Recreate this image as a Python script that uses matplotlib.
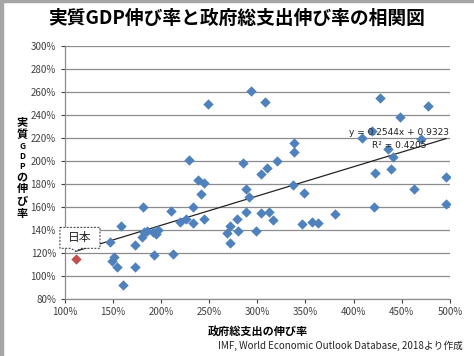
import numpy as np
import matplotlib
matplotlib.use("Agg")
import matplotlib.pyplot as plt
from matplotlib.patches import Rectangle, Polygon

plt.rcParams['font.family'] = ['Noto Sans CJK JP', 'DejaVu Sans']

# government total expenditure growth (%), real GDP growth (%)
spend = [146.8, 148.8, 150.9, 153.7, 158.2, 160.6, 172.7, 172.7, 180.7, 179.7,
         182.1, 184.9, 192.5, 192.0, 195.1, 197.1, 210.1, 212.5, 219.5, 225.7,
         229.1, 232.7, 233.3, 238.5, 241.8, 244.4, 244.4, 248.3, 268.0, 271.4,
         271.4, 278.4, 280.1, 284.9, 287.7, 291.5, 288.1, 293.3, 298.4, 303.6,
         303.6, 307.8, 310.2, 312.5, 315.8, 320.0, 337.4, 337.9, 338.1, 345.9,
         348.8, 356.4, 362.5, 380.5, 408.3, 419.5, 421.0, 422.4, 427.3, 436.1,
         438.7, 440.5, 448.1, 462.8, 470.4, 477.5, 496.1, 496.1]
gdp = [129.8, 113.3, 116.3, 108.1, 143.7, 92.2, 127.2, 108.1, 160.3, 134.2,
       138.5, 139.4, 118.3, 138.7, 136.9, 140.0, 156.3, 119.1, 147.0, 149.3,
       200.9, 160.3, 145.8, 183.9, 171.3, 180.6, 149.3, 249.1, 137.6, 143.5,
       128.9, 150.0, 139.1, 198.0, 175.6, 169.0, 155.6, 260.7, 139.1, 188.5,
       155.0, 251.0, 193.9, 155.4, 148.7, 199.6, 179.1, 215.4, 207.6, 145.0,
       171.9, 147.0, 146.5, 154.1, 219.7, 226.1, 159.6, 189.7, 255.0, 210.2,
       193.3, 203.2, 238.0, 175.8, 218.7, 247.8, 186.5, 162.3]
japan = (111.4, 114.5)
slope, intercept, r2 = 0.2544, 0.9323, 0.4205

blue = '#4F81BD'
red = '#C0504D'

fig = plt.figure(figsize=(4.74, 3.56), dpi=100)
ax = fig.add_axes([0.137, 0.160, 0.812, 0.711])

ax.scatter(spend, gdp, marker='D', s=28, color=blue, zorder=3, linewidths=0)
ax.scatter([japan[0]], [japan[1]], marker='D', s=28, color=red, zorder=3, linewidths=0)

# linear trend line over data range
xs = np.array([japan[0], max(spend)])
ax.plot(xs, (slope * xs / 100 + intercept) * 100, color='#222222', lw=0.9, zorder=2)
ax.text(447, 225, 'y = %.4fx + %.4f' % (slope, intercept), fontsize=6.5,
        ha='center', va='center', color='#222222', family=['DejaVu Sans'])
ax.text(447, 213.5, 'R² = %.4f' % r2, fontsize=6.5,
        ha='center', va='center', color='#222222', family=['DejaVu Sans'])

# callout for Japan (dashed box with a small notch pointing at the trend start)
tip_y = (slope * japan[0] / 100 + intercept) * 100
callout = Polygon([(94.8, 142.3), (136.4, 142.3), (136.4, 124.1), (117.0, 124.1),
                   (japan[0], tip_y), (106.0, 124.1), (94.8, 124.1)],
                  closed=True, fc='white', ec='#333333', lw=0.7,
                  ls=(0, (2, 1.5)), clip_on=False, zorder=4)
ax.add_patch(callout)
ax.text(115.6, 133.4, '日本', fontsize=8.5, ha='center', va='center',
        color='#222222', zorder=5)

ax.set_xlim(100, 500)
ax.set_ylim(80, 300)
ax.set_xticks(np.arange(100, 501, 50))
ax.set_yticks(np.arange(80, 301, 20))
ax.set_xticklabels(['%d%%' % v for v in range(100, 501, 50)])
ax.set_yticklabels(['%d%%' % v for v in range(80, 301, 20)])
ax.tick_params(labelsize=7, colors='#404040', length=3, width=0.8)
ax.tick_params(axis='x', pad=3)
ax.yaxis.grid(True, color='#8C8C8C', lw=0.9)
ax.set_axisbelow(True)
for s in ['top', 'right']:
    ax.spines[s].set_visible(False)
for s in ['left', 'bottom']:
    ax.spines[s].set_color('#8C8C8C')
    ax.spines[s].set_linewidth(0.9)

fig.text(0.5, 0.948, '実質GDP伸び率と政府総支出伸び率の相関図', ha='center', va='center',
         fontsize=13.5, fontweight='bold')
fig.text(0.543, 0.07, '政府総支出の伸び率', ha='center', va='center',
         fontsize=8, fontweight='bold')

# vertical stacked y label, latin letters smaller
ylab = '実質GDPの伸び率'
ypix = 122
for ch in ylab:
    small = ch.isascii()
    fig.text(22 / 474, 1 - ypix / 356, ch, ha='center', va='center',
             fontsize=6 if small else 8, fontweight='bold')
    ypix += 10 if small else 12.3
fig.text(0.977, 0.028, 'IMF, World Economic Outlook Database, 2018より作成',
         ha='right', va='center', fontsize=7, color='#222222')

# grey frame on left and top edge
fig.patches.append(Rectangle((0, 0), 3 / 474, 1, transform=fig.transFigure,
                             color='#A6A6A6', zorder=0))
fig.patches.append(Rectangle((0, 1 - 2 / 356), 1, 2 / 356, transform=fig.transFigure,
                             color='#A6A6A6', zorder=0))

fig.savefig('out.png', dpi=100)
